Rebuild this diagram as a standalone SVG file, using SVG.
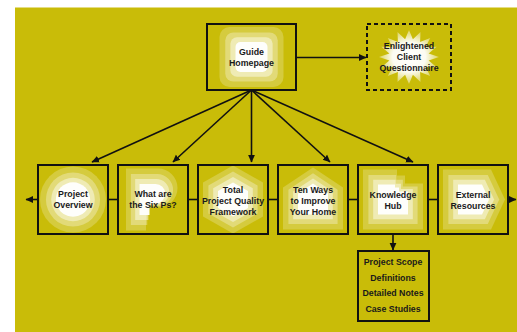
<svg xmlns="http://www.w3.org/2000/svg" xmlns:xlink="http://www.w3.org/1999/xlink" width="517" height="332" viewBox="0 0 517 332">
<style>
.box{fill:none;stroke:#111;stroke-width:2}
.dash{fill:none;stroke:#111;stroke-width:2;stroke-dasharray:4 3}
.ln{stroke:#111;stroke-width:1.6;fill:none}
.t{font-family:"Liberation Sans",Arial,sans-serif;font-weight:bold;font-size:8.8px;fill:#1a1a1a;text-anchor:middle}
.l1{fill:#fff;opacity:0.22}
.l2{fill:#fff;opacity:0.3}
.l3{fill:#fff;opacity:0.45}
.l4{fill:#fff;opacity:0.95}
</style>
<defs>
<marker id="ah" markerWidth="8" markerHeight="8" refX="7" refY="4" orient="auto" markerUnits="userSpaceOnUse">
<path d="M0,0.6 L7.5,4 L0,7.4 Z" fill="#111"/>
</marker>
<filter id="soft" x="-20%" y="-20%" width="140%" height="140%"><feGaussianBlur stdDeviation="0.6"/></filter>
<rect id="rr" x="-32" y="-30" width="64" height="60" rx="10"/>
<circle id="circ" r="33"/>
<path id="pp" d="M-27,-31 H5 A19.5,19.5 0 0 1 5,8 H-7 V31 H-27 Z"/>
<polygon id="hex" points="0,-34 30,-17 30,17 0,34 -30,17 -30,-17"/>
<polygon id="house" points="0,-32 30,-12 30,30 -30,30 -30,-12"/>
<path id="kh" d="M-30,-30 H4 V-24 H12 V-16 H30 V30 H-30 Z"/>
<polygon id="chev" points="-30,-30 18,-30 32,0 18,30 -30,30"/>
<polygon id="star" points="30,0 19.6,3.5 27.7,10.3 16.6,10 21.2,19.1 11.1,15 11.5,24.9 3.9,17.7 0,27 -3.9,17.7 -11.5,24.9 -11.1,15 -21.2,19.1 -16.6,10 -27.7,10.3 -19.6,3.5 -30,0 -19.6,-3.5 -27.7,-10.3 -16.6,-10 -21.2,-19.1 -11.1,-15 -11.5,-24.9 -3.9,-17.7 0,-27 3.9,-17.7 11.5,-24.9 11.1,-15 21.2,-19.1 16.6,-10 27.7,-10.3 19.6,-3.5"/>
<radialGradient id="sg" cx="0.5" cy="0.5" r="0.5">
<stop offset="0" stop-color="#fff" stop-opacity="1"/>
<stop offset="0.55" stop-color="#fff" stop-opacity="0.95"/>
<stop offset="1" stop-color="#fff" stop-opacity="0.35"/>
</radialGradient>
</defs>
<rect x="0" y="0" width="517" height="332" fill="#fff"/>
<rect x="15" y="7.5" width="502" height="325" fill="#C9BC08"/>

<g id="connectors">
<line class="ln" x1="296" y1="57.5" x2="366" y2="57.5" marker-end="url(#ah)"/>
<line class="ln" x1="251.5" y1="90" x2="92" y2="162" marker-end="url(#ah)"/>
<line class="ln" x1="251.5" y1="90" x2="173" y2="162" marker-end="url(#ah)"/>
<line class="ln" x1="251.5" y1="90" x2="251.5" y2="162" marker-end="url(#ah)"/>
<line class="ln" x1="251.5" y1="90" x2="330" y2="162" marker-end="url(#ah)"/>
<line class="ln" x1="251.5" y1="90" x2="413" y2="162" marker-end="url(#ah)"/>
<line class="ln" x1="38" y1="199.5" x2="26" y2="199.5" marker-end="url(#ah)"/>
<line class="ln" x1="108" y1="199.5" x2="118" y2="199.5"/>
<line class="ln" x1="188" y1="199.5" x2="198" y2="199.5"/>
<line class="ln" x1="268" y1="199.5" x2="278" y2="199.5"/>
<line class="ln" x1="348" y1="199.5" x2="358" y2="199.5"/>
<line class="ln" x1="428" y1="199.5" x2="438" y2="199.5"/>
<line class="ln" x1="508" y1="199.5" x2="516" y2="199.5" marker-end="url(#ah)"/>
<line class="ln" x1="393" y1="234" x2="393" y2="250" marker-end="url(#ah)"/>
</g>

<g id="guide">
<g filter="url(#soft)">
<use xlink:href="#rr" class="l1" transform="translate(251.5 57)"/>
<use xlink:href="#rr" class="l2" transform="translate(251.5 57) scale(0.82)"/>
<use xlink:href="#rr" class="l3" transform="translate(251.5 57) scale(0.66)"/>
<use xlink:href="#rr" class="l4" transform="translate(251.5 57) scale(0.5)"/>
</g>
<rect class="box" x="207" y="24" width="89" height="66"/>
<text class="t" x="251.5" y="55">Guide</text>
<text class="t" x="251.5" y="66">Homepage</text>
</g>

<g id="enlightened">
<use xlink:href="#star" fill="url(#sg)" transform="translate(409 57)" filter="url(#soft)"/>
<rect class="dash" x="367" y="24" width="84" height="66"/>
<text class="t" x="409" y="49">Enlightened</text>
<text class="t" x="409" y="60">Client</text>
<text class="t" x="409" y="71">Questionnaire</text>
</g>

<g id="overview">
<g filter="url(#soft)">
<use xlink:href="#circ" class="l1" transform="translate(73 199.5)"/>
<use xlink:href="#circ" class="l2" transform="translate(73 199.5) scale(0.82)"/>
<use xlink:href="#circ" class="l3" transform="translate(73 199.5) scale(0.66)"/>
<use xlink:href="#circ" class="l4" transform="translate(73 199.5) scale(0.52)"/>
</g>
<rect class="box" x="38" y="165" width="70" height="69"/>
<text class="t" x="73" y="197">Project</text>
<text class="t" x="73" y="208">Overview</text>
</g>

<g id="sixps">
<g filter="url(#soft)">
<use xlink:href="#pp" class="l1" transform="translate(153 199.5)"/>
<use xlink:href="#pp" class="l2" transform="translate(153 199.5) scale(0.82)"/>
<use xlink:href="#pp" class="l3" transform="translate(153 199.5) scale(0.66)"/>
<use xlink:href="#pp" class="l4" transform="translate(153 199.5) scale(0.5)"/>
</g>
<rect class="box" x="118" y="165" width="70" height="69"/>
<text class="t" x="153" y="197">What are</text>
<text class="t" x="153" y="208">the Six Ps?</text>
</g>

<g id="tpqf">
<g filter="url(#soft)">
<use xlink:href="#hex" class="l1" transform="translate(233 199.5)"/>
<use xlink:href="#hex" class="l2" transform="translate(233 199.5) scale(0.82)"/>
<use xlink:href="#hex" class="l3" transform="translate(233 199.5) scale(0.66)"/>
<use xlink:href="#hex" class="l4" transform="translate(233 199.5) scale(0.5)"/>
</g>
<rect class="box" x="198" y="165" width="70" height="69"/>
<text class="t" x="233" y="193">Total</text>
<text class="t" x="233" y="204">Project Quality</text>
<text class="t" x="233" y="215">Framework</text>
</g>

<g id="tenways">
<g filter="url(#soft)">
<use xlink:href="#house" class="l1" transform="translate(313 199.5)"/>
<use xlink:href="#house" class="l2" transform="translate(313 199.5) scale(0.82)"/>
<use xlink:href="#house" class="l3" transform="translate(313 199.5) scale(0.66)"/>
<use xlink:href="#house" class="l4" transform="translate(313 199.5) scale(0.5)"/>
</g>
<rect class="box" x="278" y="165" width="70" height="69"/>
<text class="t" x="313" y="193">Ten Ways</text>
<text class="t" x="313" y="204">to Improve</text>
<text class="t" x="313" y="215">Your Home</text>
</g>

<g id="knowledge">
<g filter="url(#soft)">
<use xlink:href="#kh" class="l1" transform="translate(393 199.5)"/>
<use xlink:href="#kh" class="l2" transform="translate(393 199.5) scale(0.82)"/>
<use xlink:href="#kh" class="l3" transform="translate(393 199.5) scale(0.66)"/>
<use xlink:href="#kh" class="l4" transform="translate(393 199.5) scale(0.5)"/>
</g>
<rect class="box" x="358" y="165" width="70" height="69"/>
<text class="t" x="393" y="198">Knowledge</text>
<text class="t" x="393" y="209">Hub</text>
</g>

<g id="external">
<g filter="url(#soft)">
<use xlink:href="#chev" class="l1" transform="translate(473 199.5)"/>
<use xlink:href="#chev" class="l2" transform="translate(473 199.5) scale(0.82)"/>
<use xlink:href="#chev" class="l3" transform="translate(473 199.5) scale(0.66)"/>
<use xlink:href="#chev" class="l4" transform="translate(473 199.5) scale(0.5)"/>
</g>
<rect class="box" x="438" y="165" width="70" height="69"/>
<text class="t" x="473" y="198">External</text>
<text class="t" x="473" y="209">Resources</text>
</g>

<g id="hubdetails">
<rect class="box" x="358" y="251" width="71" height="70"/>
<text class="t" x="393" y="265">Project Scope</text>
<text class="t" x="393" y="281">Definitions</text>
<text class="t" x="393" y="296">Detailed Notes</text>
<text class="t" x="393" y="312">Case Studies</text>
</g>
</svg>
